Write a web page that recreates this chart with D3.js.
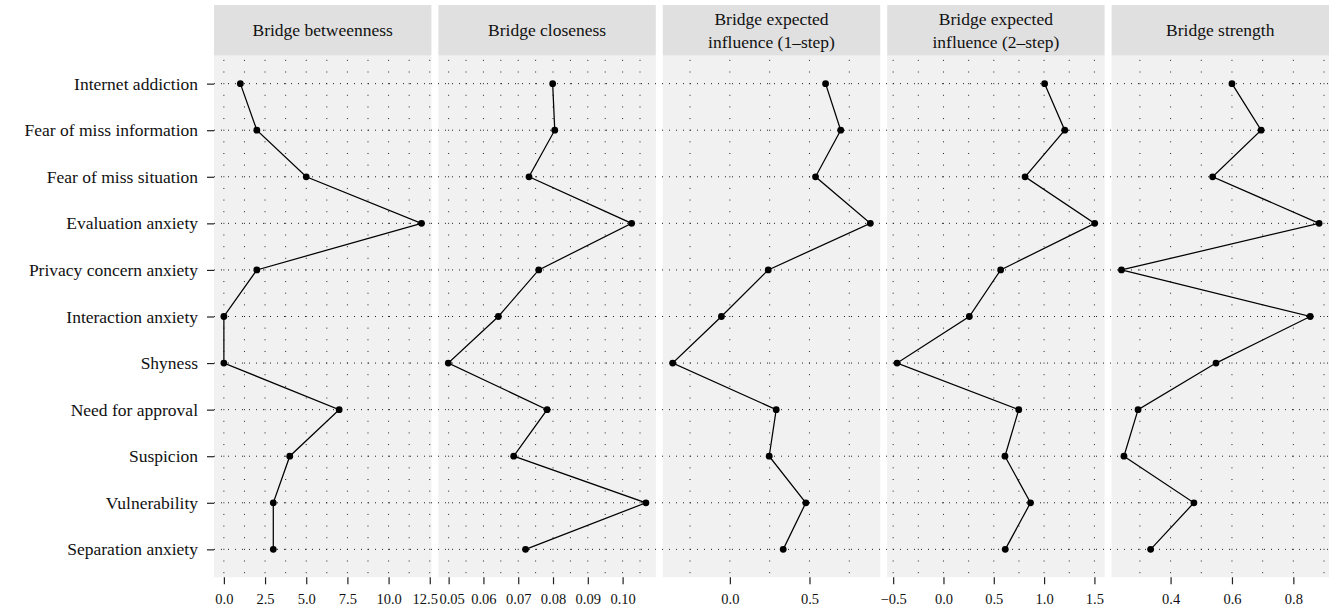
<!DOCTYPE html>
<html>
<head>
<meta charset="utf-8">
<script src="https://cdn.jsdelivr.net/npm/d3@7"></script>
<style>
  html, body { margin: 0; padding: 0; background: #ffffff; }
  svg { display: block; }
  text { font-family: "Liberation Serif", "Times New Roman", serif; fill: #111; }
</style>
</head>
<body>
<svg id="chart" width="1329" height="614"></svg>
<script>
// ---------------- data ----------------
const categories = [
  "Internet addiction", "Fear of miss information", "Fear of miss situation",
  "Evaluation anxiety", "Privacy concern anxiety", "Interaction anxiety",
  "Shyness", "Need for approval", "Suspicion", "Vulnerability", "Separation anxiety"
];
const panelTitles = [
  ["Bridge betweenness"],
  ["Bridge closeness"],
  ["Bridge expected", "influence (1\u2013step)"],
  ["Bridge expected", "influence (2\u2013step)"],
  ["Bridge strength"]
];
const betweenness = [1, 2, 5, 12, 2, 0, 0, 7, 4, 3, 3];
const closeness   = [0.0799, 0.0805, 0.0731, 0.1026, 0.0759, 0.0643, 0.0499, 0.0783, 0.0687, 0.1067, 0.0721];
const ei1step     = [0.601, 0.696, 0.538, 0.882, 0.241, -0.053, -0.359, 0.291, 0.247, 0.477, 0.335];
const ei2step     = [1.005, 1.205, 0.811, 1.503, 0.568, 0.257, -0.461, 0.748, 0.611, 0.865, 0.614];
const strength    = [0.600, 0.695, 0.537, 0.884, 0.240, 0.855, 0.548, 0.294, 0.248, 0.476, 0.335];

const ticksBetweenness = [0, 2.5, 5, 7.5, 10, 12.5];
const ticksCloseness   = [0.05, 0.06, 0.07, 0.08, 0.09, 0.10];
const ticksEI1         = [0.0, 0.5];
const ticksEI2         = [-0.5, 0.0, 0.5, 1.0, 1.5];
const ticksStrength    = [0.4, 0.6, 0.8];

const seriesList = [betweenness, closeness, ei1step, ei2step, strength];
const tickList   = [ticksBetweenness, ticksCloseness, ticksEI1, ticksEI2, ticksStrength];
const tickFormats = [".1f", ".2f", ".1f", ".1f", ".1f"];
const minorStep  = [1.25, 0.005, 0.25, 0.25, 0.1];

// ---------------- layout ----------------
const svg = d3.select("#chart");
const plotLeft = 214, plotRight = 1329, gap = 7;
const nP = 5;
const pw = (plotRight - plotLeft - gap * (nP - 1)) / nP;
const stripTop = 5, panelTop = 55.7, panelBottom = 577.3;

const y = d3.scalePoint().domain(categories).range([panelTop, panelBottom]).padding(0.6);

const gBg = svg.append("g");
const gGrid = svg.append("g");
const gMarks = svg.append("g");

seriesList.forEach((vals, i) => {
  const x0 = plotLeft + i * (pw + gap);
  const ext = d3.extent(vals);
  const pad = (ext[1] - ext[0]) * 0.05;
  const x = d3.scaleLinear().domain([ext[0] - pad, ext[1] + pad]).range([x0, x0 + pw]);

  // strip
  gBg.append("rect").attr("x", x0).attr("y", stripTop).attr("width", pw)
    .attr("height", panelTop - stripTop).attr("fill", "#e0e0e0");
  const lines = panelTitles[i];
  const cy = (stripTop + panelTop) / 2;
  lines.forEach((t, k) => {
    gBg.append("text").attr("x", x0 + pw / 2)
      .attr("y", cy + (k - (lines.length - 1) / 2) * 23.5)
      .attr("dy", "0.35em").attr("text-anchor", "middle")
      .attr("font-size", 17.5).text(t);
  });
  // panel background
  gBg.append("rect").attr("x", x0).attr("y", panelTop).attr("width", pw)
    .attr("height", panelBottom - panelTop).attr("fill", "#f1f1f1");

  // vertical grid (major + minor)
  const dom = x.domain();
  const ticks = tickList[i];
  const grid = [];
  const start = Math.ceil((dom[0] - 1e-9) / minorStep[i]);
  const end = Math.floor((dom[1] + 1e-9) / minorStep[i]);
  for (let k = start; k <= end; k++) grid.push(k * minorStep[i]);
  gGrid.selectAll(null).data(grid).enter().append("line")
    .attr("x1", d => x(d)).attr("x2", d => x(d))
    .attr("y1", panelTop).attr("y2", panelBottom)
    .attr("stroke", "#222").attr("stroke-width", 1)
    .attr("stroke-dasharray", "1," + (y.step() / 4 - 1))
    .attr("stroke-dashoffset", -((y(categories[0]) - panelTop) % (y.step() / 4)) + 0.5);

  // x axis
  const axis = d3.axisBottom(x).tickValues(ticks).tickFormat(d3.format(tickFormats[i]))
    .tickSize(7).tickPadding(9);
  const ga = svg.append("g").attr("transform", `translate(0,${panelBottom})`).call(axis);
  ga.select(".domain").remove();
  ga.selectAll(".tick line").attr("stroke", "#222").attr("stroke-width", 1.2);
  ga.selectAll(".tick text").attr("font-size", 14.5).attr("fill", "#111")
    .attr("font-family", '"Liberation Serif", serif');
  // small nudges so neighbouring panel labels do not collide (as in the original)
  if (i === 0) ga.selectAll(".tick text").filter((d, k, n) => k === n.length - 1).attr("dx", -5);
  if (i === 1) ga.selectAll(".tick text").filter((d, k) => k === 0).attr("dx", 3);

  // line + points
  const line = d3.line().x((d) => x(d)).y((d, j) => y(categories[j]));
  gMarks.append("path").attr("d", line(vals)).attr("fill", "none")
    .attr("stroke", "#000").attr("stroke-width", 1.25);
  gMarks.selectAll(null).data(vals).enter().append("circle")
    .attr("cx", d => x(d)).attr("cy", (d, j) => y(categories[j]))
    .attr("r", 3.4).attr("fill", "#000");
});

// horizontal dotted grid lines at categories across all panels
gGrid.selectAll(null).data(categories).enter().append("line")
  .attr("x1", plotLeft).attr("x2", plotRight)
  .attr("y1", d => y(d)).attr("y2", d => y(d))
  .attr("stroke", "#222").attr("stroke-width", 1)
  .attr("stroke-dasharray", "1,6");

// y axis (left of first panel)
const yAxis = d3.axisLeft(y).tickSize(7).tickPadding(9);
const gy = svg.append("g").attr("transform", `translate(${plotLeft},0)`).call(yAxis);
gy.select(".domain").remove();
gy.selectAll(".tick line").attr("stroke", "#222").attr("stroke-width", 1.2);
gy.selectAll(".tick text").attr("font-size", 17.5).attr("fill", "#111")
  .attr("font-family", '"Liberation Serif", serif');
</script>
</body>
</html>
